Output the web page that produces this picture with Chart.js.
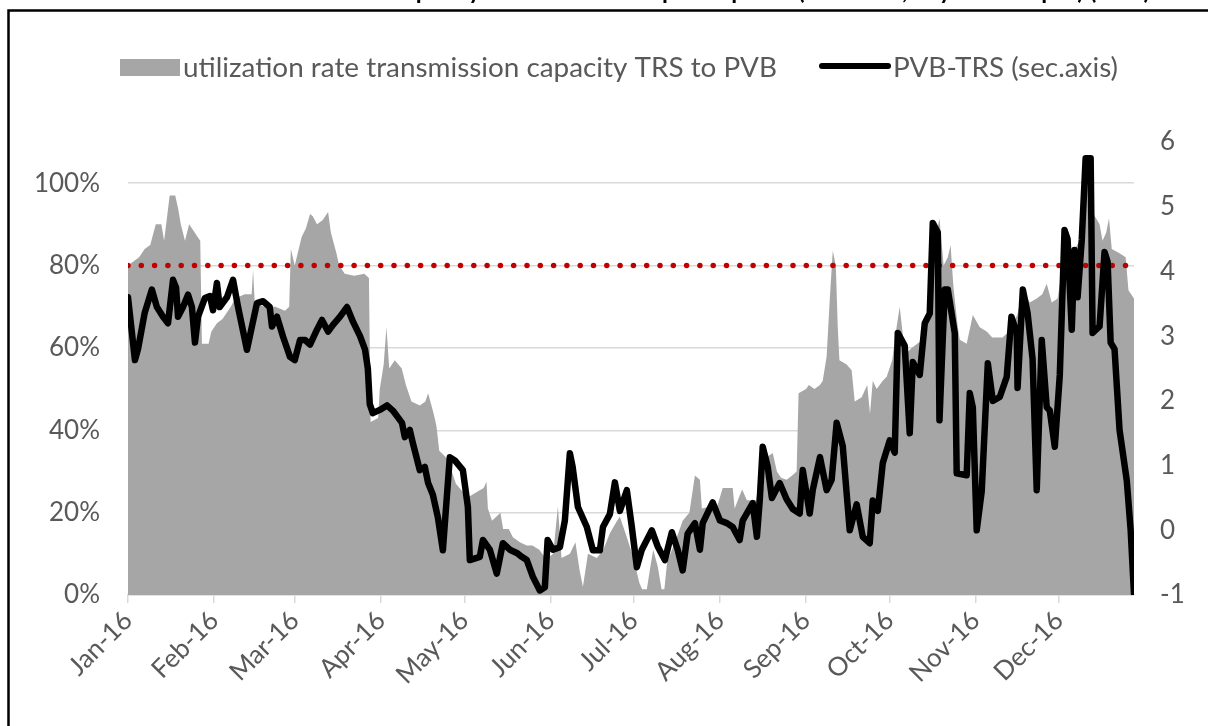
<!DOCTYPE html>
<html><head><meta charset="utf-8">
<script src="https://cdn.jsdelivr.net/npm/chart.js@4.4.1/dist/chart.umd.min.js"></script>
<style>html,body{margin:0;padding:0;background:#fff;overflow:hidden}</style>
</head><body>
<canvas id="c" width="1208" height="726"></canvas>
<script>
// ---- data (x = day of 2016, 0 = 1 Jan) ----
const monthStartDays = [0,31,60,91,121,152,182,213,244,274,305,335];
const monthLabels = ['Jan-16','Feb-16','Mar-16','Apr-16','May-16','Jun-16','Jul-16','Aug-16','Sep-16','Oct-16','Nov-16','Dec-16'];
const leftTicks = [0,20,40,60,80,100];
const rightTicks = [-1,0,1,2,3,4,5,6];
const thresholdPct = 80;
const seriesNames = ['utilization rate transmission capacity TRS to PVB','PVB-TRS (sec.axis)'];
const titleText = 'Utilization rate transmission capacity TRS to PVB and price spread (PVB-TRS, day-ahead spot) (EUR)';

const utilDay = [0,4,6,8,10,12,13,15,17,18,19,20.5,22,24,25,26,
 26.6,29,30,32,34,37,38.5,42,44.5,45,45.6,49,53,56.5,58,
 58.6,60,62.5,64,65.5,66.5,68,70,72,73,75,76,78,81.5,85,86.7,
 87.3,90,90.6,92,93,94,96,98.5,100,102,105,107,108,110,111,112,115,116.5,118,120.5,123,125.5,128,129,129.5,131,134,135,137,138.5,141,143.5,145.5,148,150.5,153,154.7,156,159,161,162.5,163.7,165.5,168.7,171,173.4,176,177,179.5,181.7,184,185,186.7,188,189,190.6,192,193,194,197.5,199.6,202,204,205.8,206.5,209.4,212,214,217.6,218.3,220,221,222.7,226,228.4,231,232,233.5,235,237,239,240.6,
 241.3,244,245,247,249,250,251.4,252.5,253.6,254.7,255.4,256,258.6,260.4,261.5,264,266,267,268,269.4,271.6,273,275,276,277.7,279,280.6,282,284,286,287.4,288.5,289.6,291,292,293.5,295,296,297,298.6,299.3,301.8,304,306.5,309,311,314.7,317,320,322,324.5,327,329,330.6,332.4,334.5,336.3,339,342.4,345,347,349.6,350.7,352,353,354,356.8,359,360,362];
const utilPct = [80,82,84,85,90,90,86,97,97,94,90,86,90,88,87,86,
 61,61,64,66,67,70,72,73,73,79,71,70,70,69,70,
 84,80,87,89,92.5,92,90,91,93,88,83,80,78,77.5,78,77,
 42,43,50,56,65,55,57,55,51,47,46,47,49,44,41,35,33,30,27,25,24,25,26,27.5,21,18,20,16,16,14,12.8,12,12,11,8.7,10,21.5,9,10,12.8,6,2,10,9,11,15,18,19,14,9.4,3,1.4,1.4,7,11,7,1.4,1.4,8,14,18,20,29,28,21,21.5,21.5,26,26,21,24,25.6,23,23,33,34,34.5,30,28.5,28,29,30,
 49,50,51,50,51,52,58,71.5,83.6,80,65,57,56,54.6,47,48,51,44,52,50,52,53,57,62.5,70,62,59,60,61,62,68,75,86,88,91.5,80,82,85,75,65,62,61,68,65,64,62.5,62.5,64,68,74,71,72,73,75.6,71,72,79.5,82,86,100,93,90,86,88,91.5,84,83,82,74,72];

const spreadDay = [0,2.5,3.6,6,8.6,10.4,12.6,14.4,16.2,17.3,18,19.8,21.6,23,24.1,25.2,27.7,29.5,30.6,32,33,35.6,37.8,39.6,42.8,44.6,46.4,48.6,51,51.8,53.6,55.8,58.3,60,61.9,63.7,65.5,68,69.8,72,73.7,76.3,78.8,81,83.5,85.3,86.3,87,88.1,90.6,93.2,95.3,98.6,99.6,101.4,102.5,105,106.8,108,109.7,111.5,113.3,114.7,115.8,117.6,120.5,122.3,123,126.6,127.7,130.2,132.7,134.9,137.4,139.9,141.7,143.5,145.7,148.2,150,151,152.9,155.4,157.2,159,160,161.9,165.1,167.3,169.8,170.9,173.4,175.2,177,179.5,181.3,183.1,184.9,188.5,190.6,193.2,195.7,197.8,199.6,201.4,204,205.8,206.8,210.4,213,215.5,217.6,220.1,221.2,224.8,226.3,227.3,228.4,230.2,231.7,234.5,237,239.2,241.7,242.8,245.3,246.4,249,251.4,253.2,255,257.2,259.7,262.2,264.4,266.9,268,269.8,271.6,274.1,275.9,277,279.5,281.3,282.4,284.9,286.7,288.5,289.6,291.4,292,293.9,295,297.5,298.2,301.8,302.9,304,305.4,307.2,309.4,311.2,313.7,316.2,317.9,319.8,320.1,322,323.7,325.5,327,328.8,330.6,331.7,333.5,335.3,337,338.1,339.6,340.6,341.7,343.2,344.6,346.4,347.1,349.6,351.4,352.5,353.6,355,356.8,359.4,360.8,362];
const spreadVal = [3.6,2.63,2.8,3.36,3.72,3.45,3.3,3.2,3.87,3.75,3.3,3.45,3.64,3.45,2.9,3.3,3.59,3.62,3.4,3.82,3.45,3.6,3.87,3.45,2.79,3.15,3.51,3.54,3.45,3.15,3.3,2.99,2.68,2.63,2.94,2.94,2.87,3.1,3.25,3.07,3.17,3.3,3.45,3.22,3.0,2.79,2.5,1.95,1.81,1.86,1.93,1.85,1.66,1.44,1.55,1.35,0.93,0.98,0.73,0.55,0.2,-0.31,0.5,1.13,1.08,0.93,0.36,-0.46,-0.41,-0.15,-0.3,-0.67,-0.2,-0.3,-0.35,-0.41,-0.46,-0.72,-0.93,-0.88,-0.15,-0.3,-0.26,0.15,1.19,0.98,0.36,0.05,-0.31,-0.31,0.05,0.25,0.74,0.3,0.62,0.05,-0.57,-0.3,0,-0.25,-0.46,-0.03,-0.3,-0.62,-0.05,0.11,-0.3,0.11,0.43,0.15,0.11,0.05,-0.15,0.15,0.42,-0.1,0.45,1.29,0.98,0.5,0.73,0.48,0.33,0.26,0.93,0.26,0.62,1.13,0.62,0.78,1.66,1.3,0,0.4,-0.1,-0.2,0.46,0.3,1.04,1.39,1.2,3.05,2.85,1.5,2.6,2.4,3.2,3.35,4.75,4.6,1.7,3.72,3.72,3.05,0.88,0.85,2.12,1.9,0,0.6,2.58,2.0,2.06,2.37,3.3,3.05,2.2,3.72,3.36,2.65,0.62,2.94,1.9,1.85,1.29,2.4,4.64,4.5,3.1,4.33,3.6,4.49,5.75,5.75,3.05,3.15,4.3,4.15,2.9,2.8,1.55,0.77,0.0,-0.98];

// ---- fonts ----
const FAMILY = 'Lato, Carlito, "Open Sans", sans-serif';
const mctx = document.createElement('canvas').getContext('2d');
function fitSize(text, width, weight){ mctx.font = (weight||'') + ' 100px ' + FAMILY; return 100 * width / mctx.measureText(text).width; }
const tickSize = Math.round(fitSize('100%', 66) * 10) / 10;
const legendSize = fitSize(seriesNames[0], 594);
const TEXT = '#595959';
Chart.defaults.font.family = FAMILY;
Chart.defaults.color = TEXT;

const framePlugin = {
  id: 'frame',
  afterDraw(chart) {
    const c = chart.ctx;
    c.save();
    // title (cut off by the top of the picture: only descenders remain)
    c.font = 'bold 24px ' + FAMILY;
    c.fillStyle = '#000';
    c.textAlign = 'right';
    c.textBaseline = 'alphabetic';
    c.fillText(titleText, 1150, -1);
    // frame
    c.strokeStyle = '#000';
    c.lineWidth = 2.5;
    c.beginPath();
    c.moveTo(8.5, 740); c.lineTo(8.5, 10.5); c.lineTo(1220, 10.5);
    c.stroke();
    // legend
    c.fillStyle = '#A6A6A6';
    c.fillRect(120, 59, 60, 17);
    c.font = legendSize + 'px ' + FAMILY;
    c.fillStyle = TEXT;
    c.textAlign = 'left';
    c.textBaseline = 'middle';
    c.fillText(chart.data.datasets[2].label, 183, 68);
    c.strokeStyle = '#000';
    c.lineWidth = 6;
    c.lineCap = 'round';
    c.beginPath(); c.moveTo(822, 66); c.lineTo(888, 66); c.stroke();
    c.fillText(chart.data.datasets[0].label, 893, 68);
    c.restore();
  }
};

new Chart(document.getElementById('c'), {
  type: 'line',
  data: {
    datasets: [
      { label: seriesNames[1], yAxisID: 'y2', order: 0,
        data: spreadDay.map((d, i) => ({ x: d, y: spreadVal[i] })),
        borderColor: '#000', borderWidth: 6.5, pointRadius: 0, tension: 0,
        borderJoinStyle: 'round', borderCapStyle: 'round', fill: false },
      { label: 'threshold', yAxisID: 'y', order: 1,
        data: [{ x: 0, y: thresholdPct }, { x: 362, y: thresholdPct }],
        borderColor: '#C00000', borderWidth: 5.5, borderDash: [0, 13.3], borderCapStyle: 'round',
        pointRadius: 0, fill: false },
      { label: seriesNames[0], yAxisID: 'y', order: 2,
        data: utilDay.map((d, i) => ({ x: d, y: utilPct[i] })),
        borderColor: 'rgba(0,0,0,0)', borderWidth: 0, backgroundColor: '#A6A6A6',
        pointRadius: 0, tension: 0, fill: 'origin' }
    ]
  },
  options: {
    responsive: false, animation: false,
    layout: { padding: { top: 142, left: 0, right: 0, bottom: 0 } },
    plugins: { legend: { display: false }, tooltip: { enabled: false } },
    scales: {
      x: {
        type: 'linear', min: 0, max: 362,
        afterBuildTicks: s => { s.ticks = monthStartDays.map(v => ({ value: v })); },
        afterFit: s => { s.height = 131; },
        ticks: { autoSkip: false, minRotation: 45, maxRotation: 45, padding: 2,
          font: { size: tickSize }, color: TEXT,
          callback: (v) => monthLabels[monthStartDays.indexOf(v)] },
        grid: { drawOnChartArea: false, drawTicks: true, tickLength: 8, color: '#D9D9D9', lineWidth: 1.5 },
        border: { color: '#D9D9D9', width: 1.5 }
      },
      y: {
        position: 'left', min: 0, max: 110,
        afterBuildTicks: s => { s.ticks = leftTicks.map(v => ({ value: v })); },
        afterFit: s => { s.width = 128; },
        ticks: { padding: 28, font: { size: tickSize }, color: TEXT, callback: v => v + '%' },
        grid: { color: '#D9D9D9', lineWidth: 1.5, drawTicks: false },
        border: { display: false }
      },
      y2: {
        position: 'right', min: -1, max: 6,
        afterBuildTicks: s => { s.ticks = rightTicks.map(v => ({ value: v })); },
        afterFit: s => { s.width = 74; },
        ticks: { padding: 26, font: { size: tickSize }, color: TEXT },
        grid: { display: false, drawTicks: false },
        border: { display: false }
      }
    }
  },
  plugins: [framePlugin]
});
</script>
</body></html>
